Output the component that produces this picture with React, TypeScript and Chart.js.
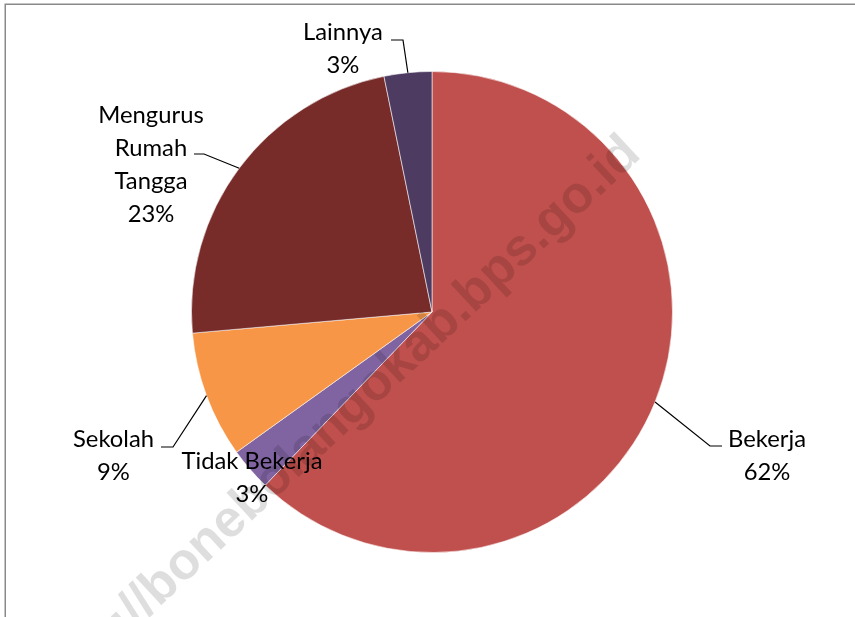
import React, { useEffect, useRef } from "react";
import { Chart, registerables } from "chart.js";

Chart.register(...registerables);

const categories = ["Bekerja", "Tidak Bekerja", "Sekolah", "Mengurus Rumah Tangga", "Lainnya"];
const values = [62.2, 2.9, 8.5, 23.2, 3.2];
const colors = ["#C0504D", "#8064A2", "#F79646", "#772C2A", "#4E3B62"];
const labelLines = [["Bekerja"], ["Tidak Bekerja"], ["Sekolah"], ["Mengurus", "Rumah", "Tangga"], ["Lainnya"]];
const watermarkPrefix = "http://";
const watermarkBody = "bonebolangokab.bps.go.id";

// label placement (text centre of first line, leader elbow and end)
const LABEL_LAYOUT = [
  { cx: 767, cy: 439, elbow: [710, 446], end: [722, 446] },
  { cx: 252, cy: 461, elbow: null, end: null },
  { cx: 113.5, cy: 439, elbow: [173, 447], end: [161, 447] },
  { cx: 151, cy: 115, elbow: [204, 154], end: [194, 154] },
  { cx: 343, cy: 32, elbow: [403, 40], end: [391, 40] },
];
const LINE_H = 33;

const FONT_FAMILY = "Lato, 'Open Sans', sans-serif";

const framePlugin = {
  id: "frame",
  beforeDraw(chart: any) {
    const ctx = chart.ctx;
    ctx.save();
    ctx.fillStyle = "#ffffff";
    ctx.fillRect(0, 0, chart.width, chart.height);
    ctx.strokeStyle = "#8a8a8a";
    ctx.lineWidth = 1.5;
    ctx.strokeRect(5.25, 4.25, chart.width + 20, chart.height + 20);
    ctx.restore();
  },
};

const overlayPlugin = {
  id: "overlay",
  afterDatasetsDraw(chart: any) {
    const ctx = chart.ctx;
    // watermark
    ctx.save();
    ctx.translate(149, 597);
    ctx.rotate((-43 * Math.PI) / 180);
    ctx.font = "bold 52px 'Liberation Sans', Arial, sans-serif";
    ctx.fillStyle = "rgba(0,0,0,0.13)";
    ctx.textAlign = "left";
    ctx.textBaseline = "middle";
    const pw = ctx.measureText(watermarkPrefix).width;
    ctx.fillText(watermarkPrefix + watermarkBody, -pw, 0);
    ctx.restore();

    // labels
    ctx.save();
    ctx.font = `26px ${FONT_FAMILY}`;
    const w = ctx.measureText("Tidak Bekerja").width;
    const size = (26 * 141) / w;
    ctx.font = `${size}px ${FONT_FAMILY}`;
    ctx.fillStyle = "#000000";
    ctx.strokeStyle = "#000000";
    ctx.lineWidth = 1.2;
    ctx.textAlign = "center";
    ctx.textBaseline = "middle";
    const meta = chart.getDatasetMeta(0);
    const total = values.reduce((a, b) => a + b, 0);
    meta.data.forEach((arc: any, i: number) => {
      const p = arc.getProps(["x", "y", "startAngle", "endAngle", "outerRadius"], true);
      const mid = (p.startAngle + p.endAngle) / 2;
      const sx = p.x + Math.cos(mid) * p.outerRadius;
      const sy = p.y + Math.sin(mid) * p.outerRadius;
      const L = LABEL_LAYOUT[i];
      if (L.elbow && L.end) {
        ctx.beginPath();
        ctx.moveTo(sx, sy);
        ctx.lineTo(L.elbow[0], L.elbow[1]);
        ctx.lineTo(L.end[0], L.end[1]);
        ctx.stroke();
      }
      const lines = [...labelLines[i], `${Math.round((values[i] / total) * 100)}%`];
      lines.forEach((t, k) => {
        ctx.fillText(t, L.cx, L.cy + k * LINE_H);
      });
    });
    ctx.restore();
  },
};

export default function App() {
  const ref = useRef<HTMLCanvasElement | null>(null);
  useEffect(() => {
    document.body.style.margin = "0";
    const canvas = ref.current;
    if (!canvas) return;
    const chart = new Chart(canvas, {
      type: "pie",
      data: {
        labels: categories,
        datasets: [
          {
            data: values,
            backgroundColor: colors,
            borderColor: "rgba(255,255,255,0.55)",
            borderWidth: 1,
          },
        ],
      },
      options: {
        responsive: false,
        animation: false,
        layout: { padding: { top: 71, bottom: 64, left: 191, right: 182 } },
        plugins: {
          legend: { display: false },
          tooltip: { enabled: false },
        },
      },
      plugins: [framePlugin, overlayPlugin],
    });
    return () => chart.destroy();
  }, []);
  return (
    <div style={{ position: "fixed", left: 0, top: 0, width: 855, height: 617 }}>
      <canvas ref={ref} width={855} height={617} />
    </div>
  );
}
